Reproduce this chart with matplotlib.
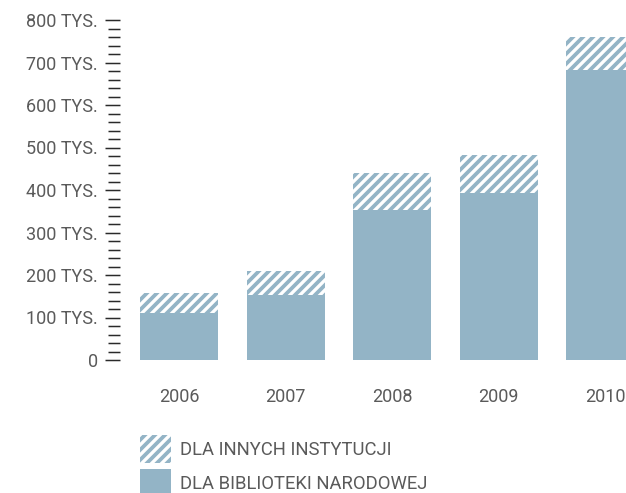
import matplotlib.pyplot as plt
from matplotlib.ticker import MultipleLocator, FuncFormatter

# dane (tys.)
years = ['2006', '2007', '2008', '2009', '2010']
narodowa = [111, 152, 352, 393, 682]
inne = [47, 58, 88, 89, 77]

DPI = 60
PT = 72 / DPI  # points per pixel

plt.rcParams['font.family'] = ['Roboto', 'DejaVu Sans']
plt.rcParams['hatch.linewidth'] = 4.5

blue = '#93b4c6'
txt = '#5a5a5a'

fig = plt.figure(figsize=(626 / DPI, 493 / DPI), dpi=DPI)
ax = fig.add_axes([120 / 626, (493 - 360) / 493, 1 - 120 / 626, (360 - 20) / 493])

x = list(range(len(years)))
b1 = ax.bar(x, narodowa, width=0.73, color=blue, linewidth=0,
            label='DLA BIBLIOTEKI NARODOWEJ')
b2 = ax.bar(x, inne, width=0.73, bottom=narodowa, facecolor='white',
            edgecolor=blue, linewidth=0, hatch='//', label='DLA INNYCH INSTYTUCJI')

ax.set_xlim((120 - 179) / 106.6, (626 - 179) / 106.6)
ax.set_ylim(0, 800)
for s in ax.spines.values():
    s.set_visible(False)

ax.set_xticks(x)
ax.set_xticklabels(years)
ax.tick_params(axis='x', length=0, pad=28 * PT, labelsize=18 * PT, labelcolor=txt)

ax.yaxis.set_major_locator(MultipleLocator(100))
ax.yaxis.set_minor_locator(MultipleLocator(20))
ax.yaxis.set_major_formatter(FuncFormatter(lambda v, p: '0' if v == 0 else f'{int(v)} TYS.'))
ax.tick_params(axis='y', which='minor', direction='out', length=12.5 * PT,
               width=1.5 * PT, color='#2a2a2a')
ax.tick_params(axis='y', which='major', direction='out', length=15 * PT,
               width=1.5 * PT, color='#2a2a2a', pad=7 * PT,
               labelsize=18 * PT, labelcolor=txt)

leg = fig.legend(handles=[b2, b1], loc='upper left',
                 bbox_to_anchor=(140 / 626, 1 - 435 / 493), frameon=False,
                 borderpad=0, borderaxespad=0, fontsize=18.5 * PT,
                 handlelength=1.7, handleheight=1.95, labelspacing=0.32,
                 handletextpad=0.45, labelcolor=txt)

fig.savefig('out.png', dpi=DPI)
